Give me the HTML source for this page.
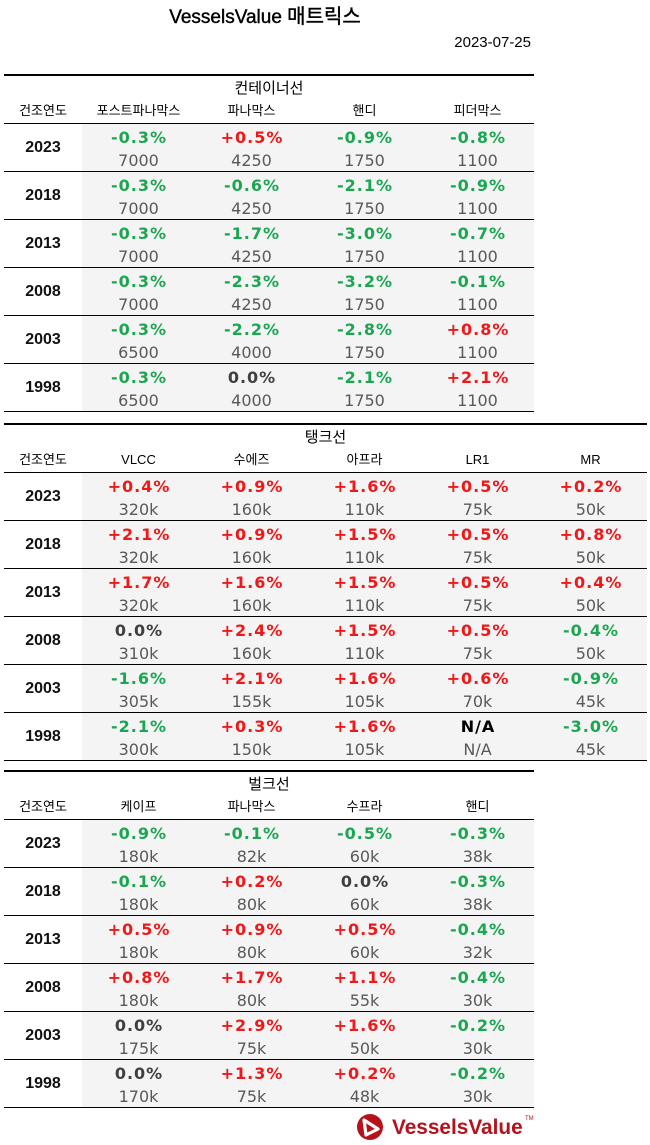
<!DOCTYPE html>
<html><head><meta charset="utf-8">
<style>
body{margin:0;width:650px;height:1145px;background:#fff;position:relative;overflow:hidden;color:#000}
.ttl{position:absolute;left:0;width:530px;top:5px;height:24px;text-align:center;font:19px/24px "Liberation Sans","Noto Sans CJK KR",sans-serif;-webkit-text-stroke:0.4px #000}
.ttl span{font-size:20px}
.dt{position:absolute;right:119px;top:33px;height:20px;font:15px/20px "Liberation Sans",sans-serif}
.t{position:absolute;left:4px}
.tk{position:absolute;left:0;top:0;right:0;height:2px;background:#000}
.st{position:absolute;left:0;right:0;top:2px;height:24px;text-align:center;font:15px/24px "Noto Sans CJK KR",sans-serif}
.hd{position:absolute;top:27px;height:20px;width:113px;text-align:center;font:13px/20px "Liberation Sans","Noto Sans CJK KR",sans-serif}
.hd.h0{left:0;width:78px;font-size:13px}
.hl{position:absolute;left:0;right:0;top:49px;height:1px;background:#000}
.r{position:absolute;left:0;right:0;height:48px;border-bottom:1px solid #000;box-sizing:border-box}
.bg{position:absolute;left:78px;right:0;top:0;height:47px;background:#f4f4f4}
.y{position:absolute;left:0;width:78px;top:0;height:47px;text-align:center;font:bold 16px/47px "Liberation Sans",sans-serif;color:#111}
.c{position:absolute;top:0;width:113px;height:47px;text-align:center}
.p{position:absolute;left:0;right:0;top:2px;height:24px;font:bold 16px/24px "DejaVu Sans",sans-serif;letter-spacing:1px;padding-left:1px}
.v{position:absolute;left:0;right:0;top:26px;height:22px;font:16px/22px "DejaVu Sans",sans-serif;color:#595959}
.g{color:#1ba651}.rd{color:#f01818}.z{color:#404040}.k{color:#000}
.c1{left:78px}.c2{left:191px}.c3{left:304px}.c4{left:417px}.c5{left:530px}
</style></head><body>
<div class="ttl">VesselsValue <span>매트릭스</span></div>
<div class="dt">2023-07-25</div>

<!-- Container -->
<div class="t" style="top:74px;width:530px;height:338px">
<div class="tk"></div>
<div class="st">컨테이너선</div>
<div class="hd h0">건조연도</div><div class="hd c1">포스트파나막스</div><div class="hd c2">파나막스</div><div class="hd c3">핸디</div><div class="hd c4">피더막스</div>
<div class="hl"></div>
<div class="r" style="top:50px"><div class="bg"></div><div class="y">2023</div>
<div class="c c1"><div class="p g">-0.3%</div><div class="v">7000</div></div>
<div class="c c2"><div class="p rd">+0.5%</div><div class="v">4250</div></div>
<div class="c c3"><div class="p g">-0.9%</div><div class="v">1750</div></div>
<div class="c c4"><div class="p g">-0.8%</div><div class="v">1100</div></div></div>
<div class="r" style="top:98px"><div class="bg"></div><div class="y">2018</div>
<div class="c c1"><div class="p g">-0.3%</div><div class="v">7000</div></div>
<div class="c c2"><div class="p g">-0.6%</div><div class="v">4250</div></div>
<div class="c c3"><div class="p g">-2.1%</div><div class="v">1750</div></div>
<div class="c c4"><div class="p g">-0.9%</div><div class="v">1100</div></div></div>
<div class="r" style="top:146px"><div class="bg"></div><div class="y">2013</div>
<div class="c c1"><div class="p g">-0.3%</div><div class="v">7000</div></div>
<div class="c c2"><div class="p g">-1.7%</div><div class="v">4250</div></div>
<div class="c c3"><div class="p g">-3.0%</div><div class="v">1750</div></div>
<div class="c c4"><div class="p g">-0.7%</div><div class="v">1100</div></div></div>
<div class="r" style="top:194px"><div class="bg"></div><div class="y">2008</div>
<div class="c c1"><div class="p g">-0.3%</div><div class="v">7000</div></div>
<div class="c c2"><div class="p g">-2.3%</div><div class="v">4250</div></div>
<div class="c c3"><div class="p g">-3.2%</div><div class="v">1750</div></div>
<div class="c c4"><div class="p g">-0.1%</div><div class="v">1100</div></div></div>
<div class="r" style="top:242px"><div class="bg"></div><div class="y">2003</div>
<div class="c c1"><div class="p g">-0.3%</div><div class="v">6500</div></div>
<div class="c c2"><div class="p g">-2.2%</div><div class="v">4000</div></div>
<div class="c c3"><div class="p g">-2.8%</div><div class="v">1750</div></div>
<div class="c c4"><div class="p rd">+0.8%</div><div class="v">1100</div></div></div>
<div class="r" style="top:290px"><div class="bg"></div><div class="y">1998</div>
<div class="c c1"><div class="p g">-0.3%</div><div class="v">6500</div></div>
<div class="c c2"><div class="p z">0.0%</div><div class="v">4000</div></div>
<div class="c c3"><div class="p g">-2.1%</div><div class="v">1750</div></div>
<div class="c c4"><div class="p rd">+2.1%</div><div class="v">1100</div></div></div>
</div>

<!-- Tanker -->
<div class="t" style="top:423px;width:643px;height:338px">
<div class="tk"></div>
<div class="st">탱크선</div>
<div class="hd h0">건조연도</div><div class="hd c1">VLCC</div><div class="hd c2">수에즈</div><div class="hd c3">아프라</div><div class="hd c4">LR1</div><div class="hd c5">MR</div>
<div class="hl"></div>
<div class="r" style="top:50px"><div class="bg"></div><div class="y">2023</div>
<div class="c c1"><div class="p rd">+0.4%</div><div class="v">320k</div></div>
<div class="c c2"><div class="p rd">+0.9%</div><div class="v">160k</div></div>
<div class="c c3"><div class="p rd">+1.6%</div><div class="v">110k</div></div>
<div class="c c4"><div class="p rd">+0.5%</div><div class="v">75k</div></div>
<div class="c c5"><div class="p rd">+0.2%</div><div class="v">50k</div></div></div>
<div class="r" style="top:98px"><div class="bg"></div><div class="y">2018</div>
<div class="c c1"><div class="p rd">+2.1%</div><div class="v">320k</div></div>
<div class="c c2"><div class="p rd">+0.9%</div><div class="v">160k</div></div>
<div class="c c3"><div class="p rd">+1.5%</div><div class="v">110k</div></div>
<div class="c c4"><div class="p rd">+0.5%</div><div class="v">75k</div></div>
<div class="c c5"><div class="p rd">+0.8%</div><div class="v">50k</div></div></div>
<div class="r" style="top:146px"><div class="bg"></div><div class="y">2013</div>
<div class="c c1"><div class="p rd">+1.7%</div><div class="v">320k</div></div>
<div class="c c2"><div class="p rd">+1.6%</div><div class="v">160k</div></div>
<div class="c c3"><div class="p rd">+1.5%</div><div class="v">110k</div></div>
<div class="c c4"><div class="p rd">+0.5%</div><div class="v">75k</div></div>
<div class="c c5"><div class="p rd">+0.4%</div><div class="v">50k</div></div></div>
<div class="r" style="top:194px"><div class="bg"></div><div class="y">2008</div>
<div class="c c1"><div class="p z">0.0%</div><div class="v">310k</div></div>
<div class="c c2"><div class="p rd">+2.4%</div><div class="v">160k</div></div>
<div class="c c3"><div class="p rd">+1.5%</div><div class="v">110k</div></div>
<div class="c c4"><div class="p rd">+0.5%</div><div class="v">75k</div></div>
<div class="c c5"><div class="p g">-0.4%</div><div class="v">50k</div></div></div>
<div class="r" style="top:242px"><div class="bg"></div><div class="y">2003</div>
<div class="c c1"><div class="p g">-1.6%</div><div class="v">305k</div></div>
<div class="c c2"><div class="p rd">+2.1%</div><div class="v">155k</div></div>
<div class="c c3"><div class="p rd">+1.6%</div><div class="v">105k</div></div>
<div class="c c4"><div class="p rd">+0.6%</div><div class="v">70k</div></div>
<div class="c c5"><div class="p g">-0.9%</div><div class="v">45k</div></div></div>
<div class="r" style="top:290px"><div class="bg"></div><div class="y">1998</div>
<div class="c c1"><div class="p g">-2.1%</div><div class="v">300k</div></div>
<div class="c c2"><div class="p rd">+0.3%</div><div class="v">150k</div></div>
<div class="c c3"><div class="p rd">+1.6%</div><div class="v">105k</div></div>
<div class="c c4"><div class="p k">N/A</div><div class="v">N/A</div></div>
<div class="c c5"><div class="p g">-3.0%</div><div class="v">45k</div></div></div>
</div>

<!-- Bulk -->
<div class="t" style="top:770px;width:530px;height:338px">
<div class="tk"></div>
<div class="st">벌크선</div>
<div class="hd h0">건조연도</div><div class="hd c1">케이프</div><div class="hd c2">파나막스</div><div class="hd c3">수프라</div><div class="hd c4">핸디</div>
<div class="hl"></div>
<div class="r" style="top:50px"><div class="bg"></div><div class="y">2023</div>
<div class="c c1"><div class="p g">-0.9%</div><div class="v">180k</div></div>
<div class="c c2"><div class="p g">-0.1%</div><div class="v">82k</div></div>
<div class="c c3"><div class="p g">-0.5%</div><div class="v">60k</div></div>
<div class="c c4"><div class="p g">-0.3%</div><div class="v">38k</div></div></div>
<div class="r" style="top:98px"><div class="bg"></div><div class="y">2018</div>
<div class="c c1"><div class="p g">-0.1%</div><div class="v">180k</div></div>
<div class="c c2"><div class="p rd">+0.2%</div><div class="v">80k</div></div>
<div class="c c3"><div class="p z">0.0%</div><div class="v">60k</div></div>
<div class="c c4"><div class="p g">-0.3%</div><div class="v">38k</div></div></div>
<div class="r" style="top:146px"><div class="bg"></div><div class="y">2013</div>
<div class="c c1"><div class="p rd">+0.5%</div><div class="v">180k</div></div>
<div class="c c2"><div class="p rd">+0.9%</div><div class="v">80k</div></div>
<div class="c c3"><div class="p rd">+0.5%</div><div class="v">60k</div></div>
<div class="c c4"><div class="p g">-0.4%</div><div class="v">32k</div></div></div>
<div class="r" style="top:194px"><div class="bg"></div><div class="y">2008</div>
<div class="c c1"><div class="p rd">+0.8%</div><div class="v">180k</div></div>
<div class="c c2"><div class="p rd">+1.7%</div><div class="v">80k</div></div>
<div class="c c3"><div class="p rd">+1.1%</div><div class="v">55k</div></div>
<div class="c c4"><div class="p g">-0.4%</div><div class="v">30k</div></div></div>
<div class="r" style="top:242px"><div class="bg"></div><div class="y">2003</div>
<div class="c c1"><div class="p z">0.0%</div><div class="v">175k</div></div>
<div class="c c2"><div class="p rd">+2.9%</div><div class="v">75k</div></div>
<div class="c c3"><div class="p rd">+1.6%</div><div class="v">50k</div></div>
<div class="c c4"><div class="p g">-0.2%</div><div class="v">30k</div></div></div>
<div class="r" style="top:290px"><div class="bg"></div><div class="y">1998</div>
<div class="c c1"><div class="p z">0.0%</div><div class="v">170k</div></div>
<div class="c c2"><div class="p rd">+1.3%</div><div class="v">75k</div></div>
<div class="c c3"><div class="p rd">+0.2%</div><div class="v">48k</div></div>
<div class="c c4"><div class="p g">-0.2%</div><div class="v">30k</div></div></div>
</div>

<!-- Logo -->
<svg style="position:absolute;left:355px;top:1113px" width="185" height="30" viewBox="0 0 185 30">
<circle cx="15" cy="14" r="13" fill="#b5121b"/>
<polygon points="9,7 11,22 23,16" fill="none" stroke="#fff" stroke-width="3.2" stroke-linejoin="round"/>
<text x="37" y="21" font-family="Liberation Sans" font-weight="bold" font-size="20.8" fill="#b5121b">VesselsValue</text>
<text x="170" y="7" font-family="Liberation Sans" font-size="6" fill="#b5121b">TM</text>
</svg>
</body></html>
